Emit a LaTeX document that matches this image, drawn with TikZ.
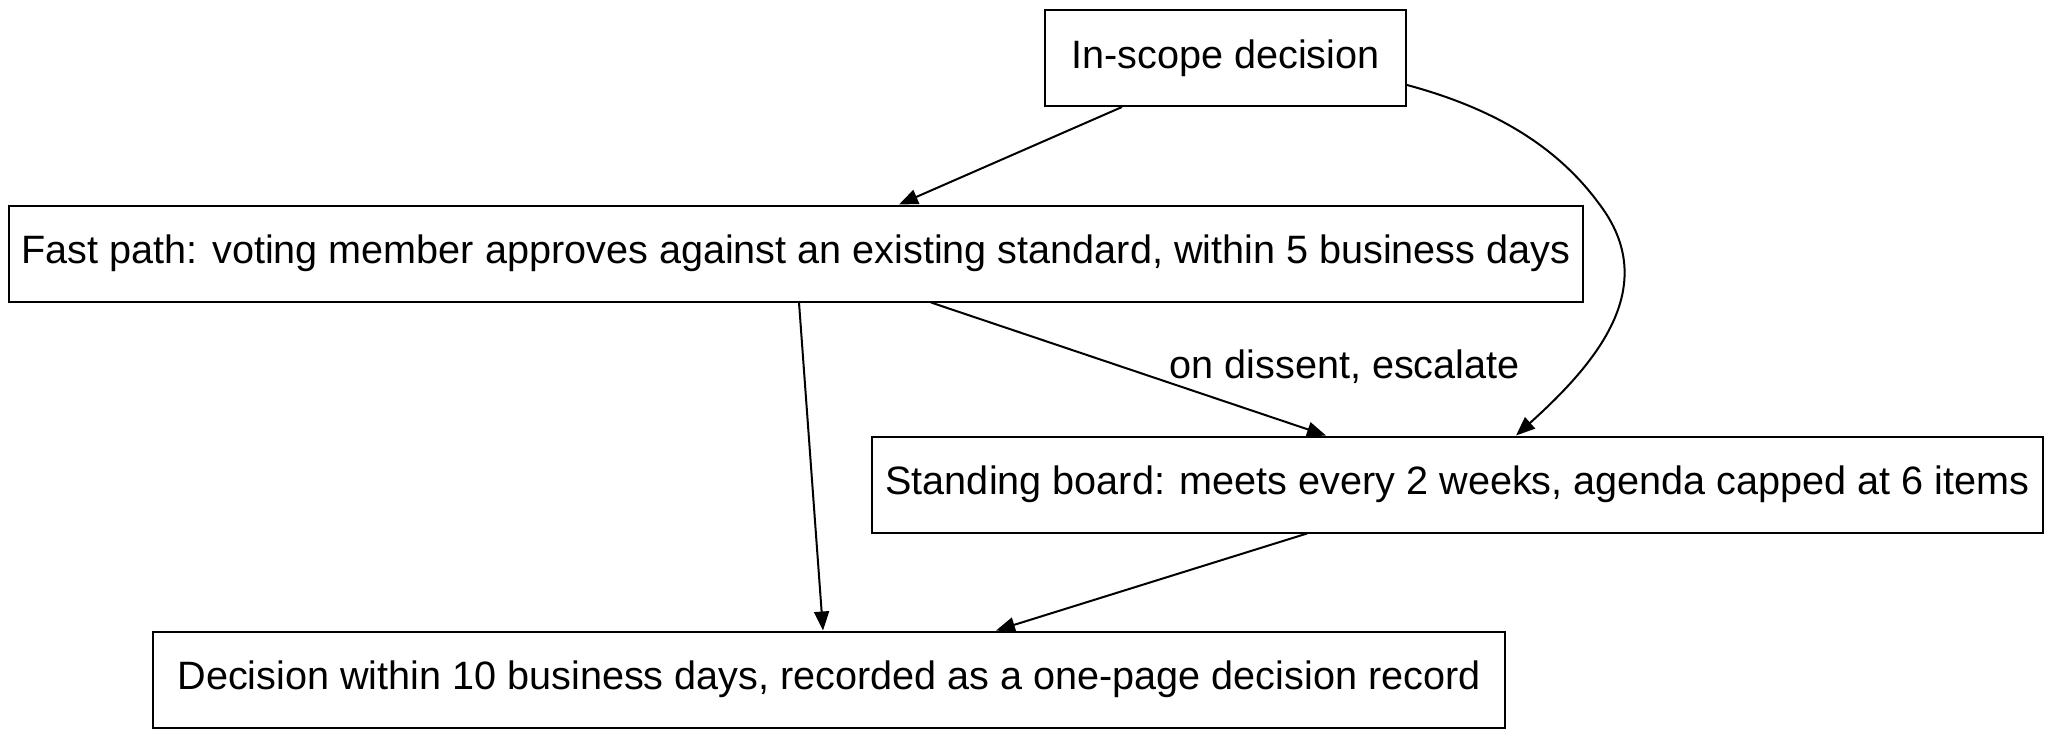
\documentclass[tikz,border=0pt]{standalone}
\usepackage{fontspec}
\setmainfont{Liberation Sans}
\usetikzlibrary{arrows.meta}
\tikzset{
  box/.style={draw, line width=1pt, inner sep=0pt, minimum height=48pt, font=\fontsize{19.8pt}{23pt}\selectfont},
  conn/.style={line width=1pt, -{Triangle[length=9.5pt,width=7.5pt]}},
  lbl/.style={font=\fontsize{19.8pt}{23pt}\selectfont, inner sep=0pt}
}
\begin{document}
\begin{tikzpicture}[x=0.5pt,y=-0.5pt]
\useasboundingbox (0,0) rectangle (2055,739);
\node[box, minimum width=180.5pt] (top) at (1225.5,58) {In-scope decision};
\node[box, minimum width=787pt] (fast) at (796,253.5) {Fast path: voting member approves against an existing standard, within 5 business days};
\node[box, minimum width=585.5pt] (stand) at (1457.5,484.5) {Standing board: meets every 2 weeks, agenda capped at 6 items};
\node[box, minimum width=676pt] (dec) at (829,679.5) {Decision within 10 business days, recorded as a one-page decision record};
\draw[conn] ([xshift=-51.75pt]top.south) -- ([xshift=51.5pt]fast.north);
\draw[conn] ([xshift=67.5pt]fast.south) -- node[pos=0.48, anchor=west, xshift=24pt, lbl] {on dissent, escalate} ([xshift=-65.75pt]stand.north);
\draw[conn] ([xshift=1.5pt]fast.south) -- ([xshift=-3pt]dec.north);
\draw[conn] ([xshift=-75.25pt]stand.south) -- ([xshift=83.5pt]dec.north);
\draw[conn] ([yshift=-13.5pt]top.east) .. controls (1500,110) and (1560,150) .. (1600,205) .. controls (1660,285) and (1600,360) .. ([xshift=29.25pt]stand.north);
\end{tikzpicture}
\end{document}
